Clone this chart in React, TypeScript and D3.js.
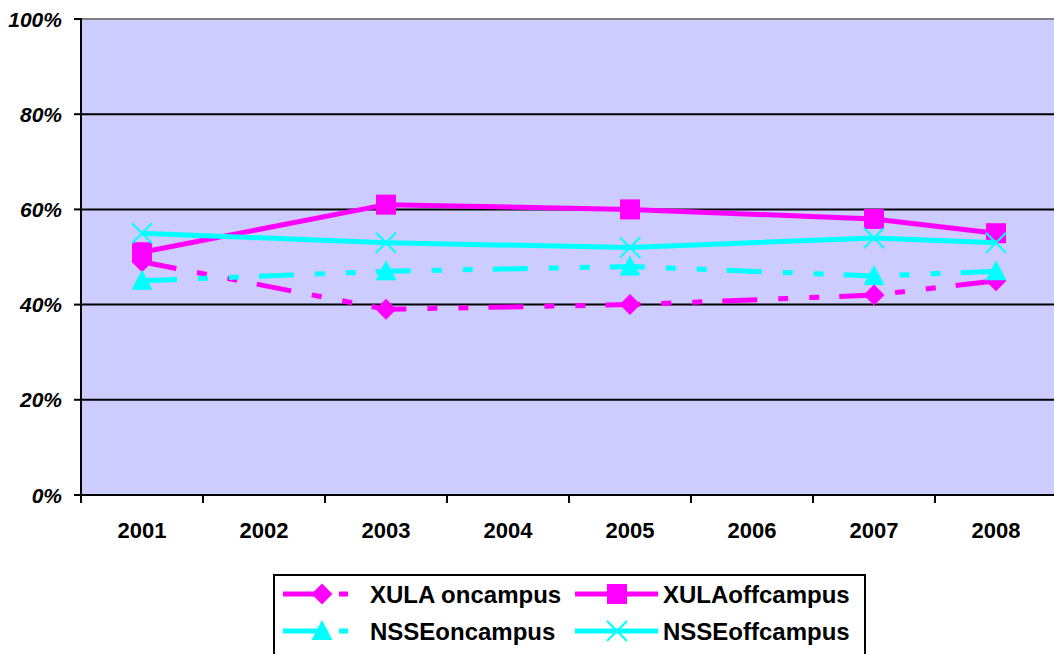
import React from "react";
import * as d3 from "d3";

const years = ["2001", "2002", "2003", "2004", "2005", "2006", "2007", "2008"];
const xulaOn: (number | null)[] = [0.49, null, 0.39, null, 0.40, null, 0.42, 0.45];
const xulaOff: (number | null)[] = [0.51, null, 0.61, null, 0.60, null, 0.58, 0.55];
const nsseOn: (number | null)[] = [0.45, null, 0.47, null, 0.48, null, 0.46, 0.47];
const nsseOff: (number | null)[] = [0.55, null, 0.53, null, 0.52, null, 0.54, 0.53];
const yTicks = [0, 0.2, 0.4, 0.6, 0.8, 1.0];

const MAGENTA = "#FF00FF";
const CYAN = "#00FFFF";
const DASH = "35 21 10 21 10 20";
const FONT = "'Liberation Sans', Arial, sans-serif";

type Marker = "diamond" | "square" | "triangle" | "x";

const series: { name: string; values: (number | null)[]; color: string; dashed: boolean; marker: Marker }[] = [
  { name: "XULA oncampus", values: xulaOn, color: MAGENTA, dashed: true, marker: "diamond" },
  { name: "XULAoffcampus", values: xulaOff, color: MAGENTA, dashed: false, marker: "square" },
  { name: "NSSEoncampus", values: nsseOn, color: CYAN, dashed: true, marker: "triangle" },
  { name: "NSSEoffcampus", values: nsseOff, color: CYAN, dashed: false, marker: "x" },
];

function MarkerShape({ type, x, y, color }: { type: Marker; x: number; y: number; color: string }) {
  if (type === "diamond") {
    const s = 10.5;
    return <path d={`M${x},${y - s}L${x + s},${y}L${x},${y + s}L${x - s},${y}Z`} fill={color} />;
  }
  if (type === "square") {
    const s = 10;
    return <rect x={x - s} y={y - s} width={2 * s} height={2 * s} fill={color} />;
  }
  if (type === "triangle") {
    return <path d={`M${x},${y - 11}L${x + 10.5},${y + 9}L${x - 10.5},${y + 9}Z`} fill={color} />;
  }
  const s = 10;
  return (
    <path
      d={`M${x - s},${y - s}L${x + s},${y + s}M${x - s},${y + s}L${x + s},${y - s}`}
      stroke={color}
      strokeWidth={2}
      fill="none"
    />
  );
}

export default function App() {
  const W = 1054;
  const H = 654;
  const left = 81;
  const band = 122;
  const top = 19;
  const bottom = 495;

  const x = d3
    .scaleBand<string>()
    .domain(years)
    .range([left, left + band * years.length])
    .paddingInner(0)
    .paddingOuter(0);
  const y = d3.scaleLinear().domain([0, 1]).range([bottom, top]);
  const cx = (yr: string) => (x(yr) as number) + x.bandwidth() / 2;

  const line = d3
    .line<{ yr: string; v: number }>()
    .x((d) => cx(d.yr))
    .y((d) => y(d.v));

  const plotRight = left + band * years.length;

  const legendItems = [
    { s: series[0], lx1: 283, lx2: 348, mx: 322, tx: 370, ty: 594 },
    { s: series[1], lx1: 575, lx2: 658, mx: 617, tx: 663, ty: 594 },
    { s: series[2], lx1: 283, lx2: 348, mx: 322, tx: 370, ty: 631 },
    { s: series[3], lx1: 575, lx2: 658, mx: 617, tx: 663, ty: 631 },
  ];

  return (
    <svg
      width={W}
      height={H}
      style={{ position: "absolute", left: 0, top: 0, background: "#fff" }}
      fontFamily={FONT}
    >
      <rect x={left} y={top} width={plotRight - left} height={bottom - top} fill="#CCCCFF" />
      <line x1={left} x2={plotRight} y1={top} y2={top} stroke="#808080" strokeWidth={2} />
      {yTicks.map((t) => (
        <g key={t}>
          {t > 0 && t < 1 && (
            <line x1={left} x2={plotRight} y1={y(t)} y2={y(t)} stroke="#000" strokeWidth={2} />
          )}
          <line x1={left - 7} x2={left} y1={y(t)} y2={y(t)} stroke="#000" strokeWidth={2} />
          <text
            x={62}
            y={y(t)}
            dy="0.36em"
            textAnchor="end"
            fontSize={21}
            fontWeight="bold"
            fontStyle="italic"
          >
            {Math.round(t * 100)}%
          </text>
        </g>
      ))}
      <line x1={left} x2={left} y1={top - 1} y2={bottom + 8} stroke="#000" strokeWidth={2} />
      <line x1={left} x2={plotRight} y1={bottom} y2={bottom} stroke="#000" strokeWidth={2} />
      {years.map((yr, i) => (
        <g key={yr}>
          {i > 0 && (
            <line
              x1={x(yr) as number}
              x2={x(yr) as number}
              y1={bottom}
              y2={bottom + 8}
              stroke="#000"
              strokeWidth={2}
            />
          )}
          <text x={cx(yr)} y={538} textAnchor="middle" fontSize={22} fontWeight="bold">
            {yr}
          </text>
        </g>
      ))}

      {series.map((s) => {
        const pts = s.values
          .map((v, i) => ({ yr: years[i], v }))
          .filter((d) => d.v !== null) as { yr: string; v: number }[];
        return (
          <g key={s.name}>
            <path
              d={line(pts) || ""}
              fill="none"
              stroke={s.color}
              strokeWidth={5}
              strokeDasharray={s.dashed ? DASH : undefined}
            />
            {pts.map((p) => (
              <MarkerShape key={p.yr} type={s.marker} x={cx(p.yr)} y={y(p.v)} color={s.color} />
            ))}
          </g>
        );
      })}

      <rect x={274} y={575} width={591} height={110} fill="#fff" stroke="#000" strokeWidth={2} />
      {legendItems.map(({ s, lx1, lx2, mx, tx, ty }) => (
        <g key={s.name}>
          <line
            x1={lx1}
            x2={lx2}
            y1={ty}
            y2={ty}
            stroke={s.color}
            strokeWidth={5}
            strokeDasharray={s.dashed ? DASH : undefined}
          />
          <MarkerShape type={s.marker} x={mx} y={ty} color={s.color} />
          <text x={tx} y={ty} dy="0.36em" fontSize={24} fontWeight="bold">
            {s.name}
          </text>
        </g>
      ))}
    </svg>
  );
}
